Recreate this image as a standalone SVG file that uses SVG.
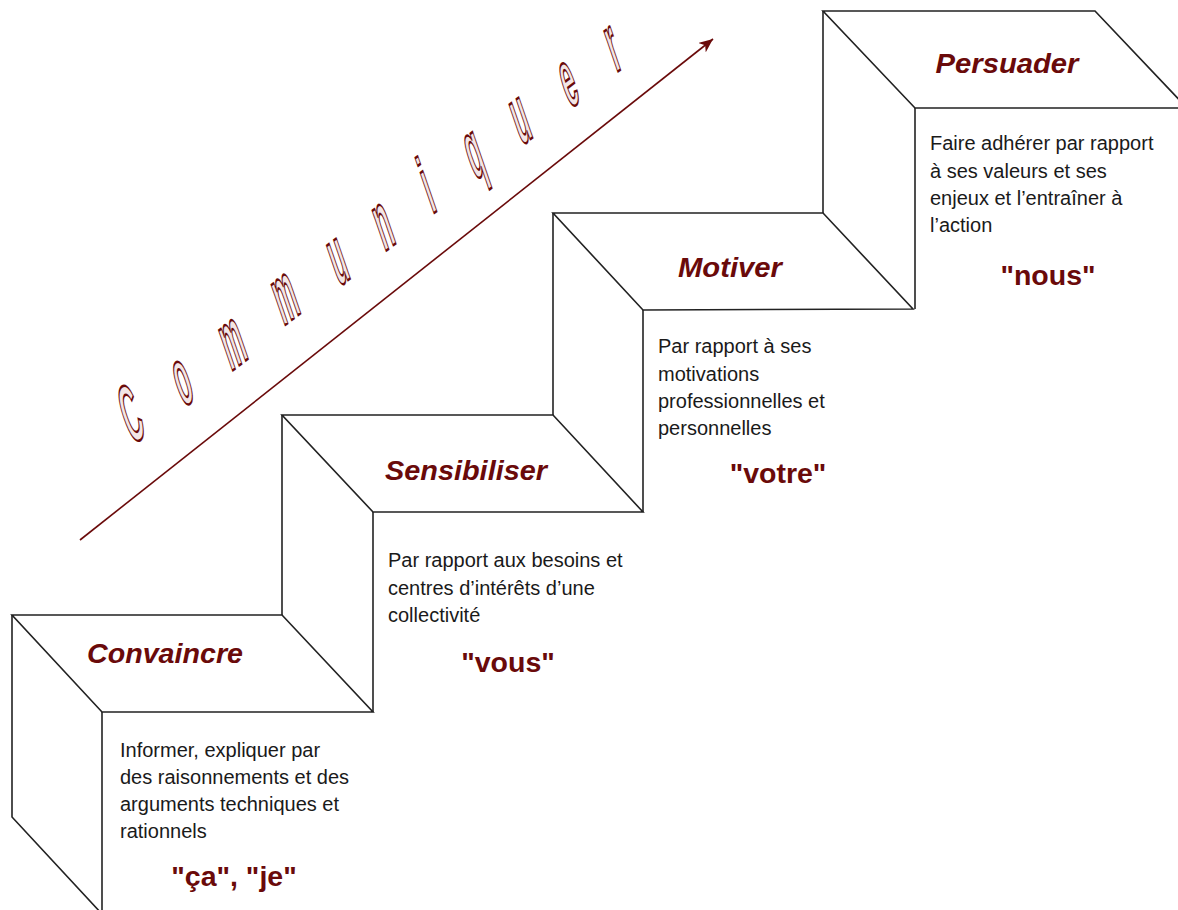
<svg xmlns="http://www.w3.org/2000/svg" width="1178" height="910" viewBox="0 0 1178 910">
<style>
.edge{fill:#fff;stroke:#222;stroke-width:1.6;stroke-linejoin:miter}
.ln{fill:none;stroke:#222;stroke-width:1.6}
.title{font-family:"Liberation Sans",Arial,sans-serif;font-size:28px;font-weight:bold;font-style:italic;fill:#6a0a0a;text-anchor:middle}
.quote{font-family:"Liberation Sans",Arial,sans-serif;font-size:28.5px;font-weight:bold;fill:#6a0a0a;text-anchor:middle}
.body{font-family:"Liberation Sans",Arial,sans-serif;font-size:20px;fill:#1a1a1a}
.wa{font-family:"Liberation Sans",Arial,sans-serif;font-size:80px;font-weight:bold;fill:#f3e6e6;stroke:#6a0a0a;stroke-width:1.9;vector-effect:non-scaling-stroke;text-anchor:middle}
</style>
<defs>
<marker id="arr" markerUnits="userSpaceOnUse" markerWidth="16" markerHeight="12" refX="14" refY="6" orient="auto">
<path d="M0,0 L14,6 L0,12 L4,6 Z" fill="#6a0a0a"/>
</marker>
</defs>
<rect width="1178" height="910" fill="#fff"/>

<g id="step-convaincre">
<polygon class="edge" points="12,615 282,615 373,712 102,712"/>
<polyline class="ln" points="12,615 12,817 102,914"/>
<line class="ln" x1="102" y1="712" x2="102" y2="912"/>
<text class="title" x="165" y="663" textLength="156" lengthAdjust="spacingAndGlyphs">Convaincre</text>
<text class="body">
<tspan x="120" y="757">Informer, expliquer par</tspan>
<tspan x="120" y="784">des raisonnements et des</tspan>
<tspan x="120" y="811">arguments techniques et</tspan>
<tspan x="120" y="838">rationnels</tspan>
</text>
<text class="quote" x="234" y="886">"ça", "je"</text>
</g>

<g id="step-sensibiliser">
<polygon class="edge" points="282,415 553,415 643,512 373,512"/>
<line class="ln" x1="282" y1="415" x2="282" y2="615"/>
<line class="ln" x1="373" y1="512" x2="373" y2="712"/>
<text class="title" x="466" y="480" textLength="162" lengthAdjust="spacingAndGlyphs">Sensibiliser</text>
<text class="body">
<tspan x="388" y="567">Par rapport aux besoins et</tspan>
<tspan x="388" y="595">centres d’intérêts d’une</tspan>
<tspan x="388" y="622">collectivité</tspan>
</text>
<text class="quote" x="508" y="672">"vous"</text>
</g>

<g id="step-motiver">
<polygon class="edge" points="553,213 823,213 913,309 643,310"/>
<line class="ln" x1="553" y1="213" x2="553" y2="415"/>
<line class="ln" x1="643" y1="310" x2="643" y2="512"/>
<text class="title" x="730" y="277" textLength="104" lengthAdjust="spacingAndGlyphs">Motiver</text>
<text class="body">
<tspan x="658" y="353">Par rapport à ses</tspan>
<tspan x="658" y="381">motivations</tspan>
<tspan x="658" y="408">professionnelles et</tspan>
<tspan x="658" y="435">personnelles</tspan>
</text>
<text class="quote" x="778" y="483">"votre"</text>
</g>

<g id="step-persuader">
<polygon class="edge" points="823,11 1095,11 1187,108 915,108"/>
<line class="ln" x1="823" y1="11" x2="823" y2="213"/>
<line class="ln" x1="915" y1="108" x2="915" y2="309"/>
<text class="title" x="1007" y="73" textLength="143" lengthAdjust="spacingAndGlyphs">Persuader</text>
<text class="body">
<tspan x="930" y="150">Faire adhérer par rapport</tspan>
<tspan x="930" y="178">à ses valeurs et ses</tspan>
<tspan x="930" y="205">enjeux et l’entraîner à</tspan>
<tspan x="930" y="232">l’action</tspan>
</text>
<text class="quote" x="1048" y="285">"nous"</text>
</g>

<g id="communiquer">
<text class="wa" transform="matrix(0.26,-0.2,0.326,0.946,139.8,439.6)">C</text>
<text class="wa" transform="matrix(0.26,-0.2,0.326,0.946,189.8,403.1)">o</text>
<text class="wa" transform="matrix(0.26,-0.2,0.326,0.946,240.3,364.6)">m</text>
<text class="wa" transform="matrix(0.26,-0.2,0.326,0.946,292.8,319.1)">m</text>
<text class="wa" transform="matrix(0.26,-0.2,0.326,0.946,345.3,282.1)">u</text>
<text class="wa" transform="matrix(0.26,-0.2,0.326,0.946,390.8,247.1)">n</text>
<text class="wa" transform="matrix(0.26,-0.2,0.326,0.946,435.3,212.1)">i</text>
<text class="wa" transform="matrix(0.26,-0.2,0.326,0.946,481.5,175.6)">q</text>
<text class="wa" transform="matrix(0.26,-0.2,0.326,0.946,527.8,141.1)">u</text>
<text class="wa" transform="matrix(0.26,-0.2,0.326,0.946,575.8,104.6)">e</text>
<text class="wa" transform="matrix(0.26,-0.2,0.326,0.946,620.3,69.6)">r</text>
</g>

<g id="connectors">
<line x1="80" y1="540" x2="713" y2="39" stroke="#6a0a0a" stroke-width="1.6" marker-end="url(#arr)"/>
</g>
</svg>
